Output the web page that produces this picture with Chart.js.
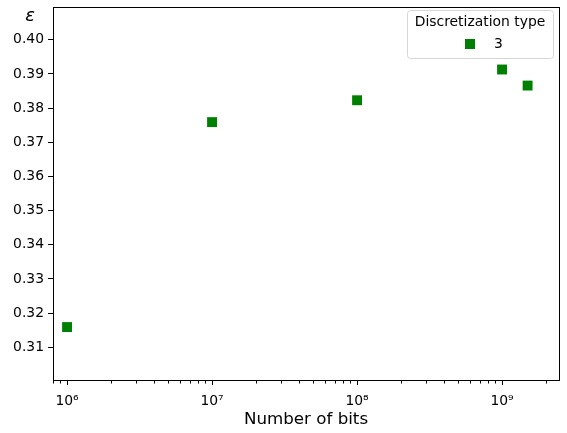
<!DOCTYPE html>
<html>
<head>
<meta charset="utf-8">
<script src="https://cdn.jsdelivr.net/npm/chart.js@4.4.1/dist/chart.umd.min.js"></script>
<style>
  body { margin: 0; background: #fff; }
  canvas { display: block; }
</style>
</head>
<body>
<canvas id="chart" width="567" height="433"></canvas>
<script>
// values
const bits = [1e6, 1e7, 1e8, 1e9, 1.5e9];
const epsilon = [0.3159, 0.3759, 0.3823, 0.3913, 0.3866];
const seriesLabel = "3";
const legendTitle = "Discretization type";
const yTicks = [0.31, 0.32, 0.33, 0.34, 0.35, 0.36, 0.37, 0.38, 0.39, 0.40];
const xMajorTicks = [1e6, 1e7, 1e8, 1e9];
const xRange = [8.0e5, 2.47e9];
const yRange = [0.3004, 0.4096];

const FONT = "'DejaVu Sans', sans-serif";
const SUPER = { "0": "⁰", "1": "¹", "2": "²", "3": "³", "4": "⁴", "5": "⁵", "6": "⁶", "7": "⁷", "8": "⁸", "9": "⁹" };

function powerLabel(value) {
  const exp = Math.round(Math.log10(value));
  return "10" + String(exp).split("").map((d) => SUPER[d]).join("");
}

// minor log ticks 2..9 within the visible range
function minorTicks() {
  const out = [];
  for (let e = 5; e <= 9; e++) {
    for (let m = 2; m <= 9; m++) {
      const v = m * Math.pow(10, e);
      if (v >= xRange[0] && v <= xRange[1]) out.push(v);
    }
  }
  return out;
}

const frameAndExtras = {
  id: "frameAndExtras",
  afterDraw(chart) {
    const { ctx, chartArea: area, scales } = chart;
    ctx.save();

    // frame on all four sides
    ctx.strokeStyle = "#000";
    ctx.lineWidth = 1;
    ctx.strokeRect(Math.round(area.left) + 0.5, Math.round(area.top) + 0.5,
      Math.round(area.right - area.left), Math.round(area.bottom - area.top));

    // minor ticks on the log axis
    const bottom = Math.round(area.bottom) + 0.5;
    ctx.beginPath();
    minorTicks().forEach((v) => {
      const x = Math.round(scales.x.getPixelForValue(v)) + 0.5;
      ctx.moveTo(x, bottom);
      ctx.lineTo(x, bottom + 3);
    });
    ctx.stroke();

    // y label placed at the top of the axis
    ctx.fillStyle = "#000";
    ctx.font = "italic 18px " + FONT;
    ctx.textAlign = "center";
    ctx.textBaseline = "middle";
    ctx.fillText("ε", 30, 16);

    // legend box in the upper right corner
    const ds = chart.data.datasets[0];
    const box = { left: 407, top: 10, width: 146, height: 48 };
    ctx.beginPath();
    ctx.roundRect(box.left + 0.5, box.top + 0.5, box.width, box.height, 3);
    ctx.fillStyle = "rgba(255,255,255,0.8)";
    ctx.fill();
    ctx.strokeStyle = "#d6d6d6";
    ctx.stroke();

    ctx.fillStyle = "#000";
    ctx.font = "13.9px " + FONT;
    ctx.fillText(legendTitle, box.left + box.width / 2, 22);
    ctx.fillStyle = ds.backgroundColor;
    ctx.fillRect(465, 39, 10, 10);
    ctx.fillStyle = "#000";
    ctx.textAlign = "left";
    ctx.fillText(ds.label, 494, 44);

    ctx.restore();
  }
};

new Chart(document.getElementById("chart"), {
  type: "scatter",
  data: {
    datasets: [
      {
        label: seriesLabel,
        data: bits.map((b, i) => ({ x: b, y: epsilon[i] })),
        backgroundColor: "#008000",
        borderColor: "#008000",
        pointStyle: "rect",
        pointRadius: 7,
        pointHoverRadius: 7,
        borderWidth: 0
      }
    ]
  },
  options: {
    responsive: false,
    animation: false,
    layout: { padding: { top: 4, right: 8, left: 0, bottom: 0 } },
    plugins: {
      legend: { display: false },
      tooltip: { enabled: false }
    },
    scales: {
      x: {
        type: "logarithmic",
        min: xRange[0],
        max: xRange[1],
        afterBuildTicks: (scale) => {
          scale.ticks = xMajorTicks.map((v) => ({ value: v }));
        },
        afterFit: (scale) => {
          scale.height = 53;
          scale.paddingLeft = 0;
          scale.paddingRight = 0;
        },
        grid: { drawOnChartArea: false, tickLength: 5, tickColor: "#000" },
        border: { display: true, color: "#000" },
        ticks: {
          autoSkip: false,
          maxRotation: 0,
          padding: 8,
          color: "#000",
          font: { family: FONT, size: 13.9 },
          callback: (value) => powerLabel(value)
        },
        title: {
          display: true,
          text: "Number of bits",
          color: "#000",
          font: { family: FONT, size: 16.7 },
          padding: { top: 0, bottom: 3 }
        }
      },
      y: {
        min: yRange[0],
        max: yRange[1],
        afterBuildTicks: (scale) => {
          scale.ticks = yTicks.map((v) => ({ value: v }));
        },
        afterFit: (scale) => {
          scale.width = 53;
          scale.paddingTop = 0;
          scale.paddingBottom = 0;
        },
        grid: { drawOnChartArea: false, tickLength: 5, tickColor: "#000" },
        border: { display: true, color: "#000" },
        ticks: {
          padding: 4,
          color: "#000",
          font: { family: FONT, size: 13.9 },
          callback: (value) => value.toFixed(2)
        }
      }
    }
  },
  plugins: [frameAndExtras]
});
</script>
</body>
</html>
